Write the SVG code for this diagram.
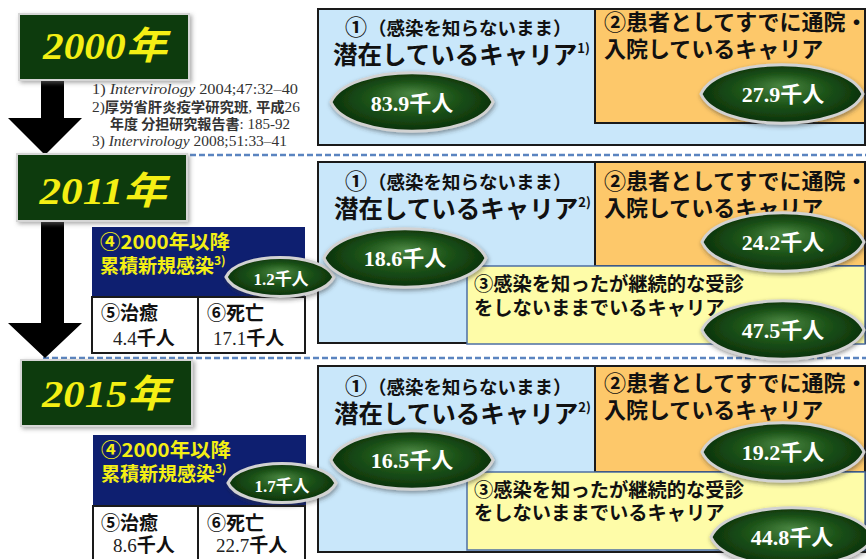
<svg xmlns="http://www.w3.org/2000/svg" width="866" height="559" viewBox="0 0 866 559">
<style>
.jp{font-family:"Noto Sans CJK JP","Noto Sans",sans-serif;font-weight:700;fill:#111;}
.year-box{fill:#113b0d;stroke:#d6d6d6;stroke-width:2;filter:url(#sh);}
.year{font-family:"Liberation Serif","Noto Sans CJK JP",serif;font-weight:700;font-style:italic;font-size:38px;fill:#f4ef14;text-anchor:middle;}
.blue{fill:#c9e7fa;stroke:#1a1a1a;stroke-width:2;}
.orange{fill:#fdc86a;stroke:#1a1a1a;stroke-width:2;}
.yellow{fill:#fefca8;stroke:#4d6fa3;stroke-width:1.5;}
.navy{fill:#0e1f70;}
.wbox{fill:#fff;stroke:#1a1a1a;stroke-width:2;}
.lens{fill:url(#gg);stroke:#d2d2d2;stroke-width:3;filter:url(#esh);}
.etxt{font-family:"Liberation Serif","Noto Sans CJK JP",serif;font-weight:700;font-size:22px;fill:#fff;text-anchor:middle;}
.etxs{font-family:"Liberation Serif","Noto Sans CJK JP",serif;font-weight:700;font-size:17px;fill:#fff;text-anchor:middle;}
.dash{stroke:#5a84c0;stroke-width:2.5;stroke-dasharray:6 3;fill:none;}
.arrow{fill:#000;}
.ref{font-family:"Liberation Serif","Noto Sans CJK JP",serif;font-size:15px;fill:#333;}
.refj{font-family:"Noto Sans CJK JP",sans-serif;font-weight:700;font-size:14px;}
.yl{fill:#f4ef14;}
.num{font-family:"Liberation Serif","Noto Sans CJK JP",serif;font-size:19px;fill:#222;}
</style>
<defs>
<radialGradient id="gg" cx="0.5" cy="0.5" r="0.55" fx="0.5" fy="0.35">
<stop offset="0" stop-color="#4a8641"/>
<stop offset="0.5" stop-color="#1c5318"/>
<stop offset="1" stop-color="#092b09"/>
</radialGradient>
<filter id="sh" x="-10%" y="-10%" width="125%" height="130%">
<feDropShadow dx="2" dy="2" stdDeviation="2" flood-color="#777" flood-opacity="0.6"/>
</filter>
<filter id="esh" x="-10%" y="-20%" width="125%" height="150%">
<feDropShadow dx="1" dy="2" stdDeviation="2" flood-color="#333" flood-opacity="0.5"/>
</filter>
<path id="lensL" d="M-81,0 C-64,-39 64,-39 81,0 C64,39 -64,39 -81,0Z"/>
<path id="lensS" d="M-54,0 C-42,-26 42,-26 54,0 C42,26 -42,26 -54,0Z"/>
</defs>

<!-- separators -->
<line class="dash" x1="190" y1="155" x2="866" y2="155"/>
<line class="dash" x1="43" y1="358" x2="866" y2="358"/>

<!-- connectors -->
<g id="connectors">
<polygon class="arrow" points="41,80 64,80 64,118 82,118 45,155 8,118 41,118"/>
<polygon class="arrow" points="41,221 64,221 64,323 82,323 45,358 8,323 41,323"/>
</g>

<!-- year nodes -->
<g id="year2000">
<rect class="year-box" x="19" y="14" width="170" height="66"/>
<text class="year" x="105" y="59" textLength="124" lengthAdjust="spacingAndGlyphs">2000年</text>
</g>
<g id="year2011">
<rect class="year-box" x="17" y="154" width="170" height="67"/>
<text class="year" x="103" y="204" textLength="127" lengthAdjust="spacingAndGlyphs">2011年</text>
</g>
<g id="year2015">
<rect class="year-box" x="21" y="360" width="171" height="66"/>
<text class="year" x="106" y="407" textLength="128" lengthAdjust="spacingAndGlyphs">2015年</text>
</g>

<!-- references -->
<g id="references">
<text class="ref" x="92" y="94" textLength="206" lengthAdjust="spacingAndGlyphs">1) <tspan font-style="italic">Intervirology</tspan> 2004;47:32–40</text>
<text class="ref" x="92" y="112" textLength="208" lengthAdjust="spacingAndGlyphs">2)<tspan class="refj">厚労省肝炎疫学研究班</tspan>, <tspan class="refj">平成</tspan>26</text>
<text class="ref" x="110" y="129" textLength="180" lengthAdjust="spacingAndGlyphs"><tspan class="refj">年度 分担研究報告書</tspan>: 185-92</text>
<text class="ref" x="92" y="146" textLength="195" lengthAdjust="spacingAndGlyphs">3) <tspan font-style="italic">Intervirology</tspan> 2008;51:33–41</text>
</g>

<!-- 2000 panel -->
<g id="p2000-latent">
<rect class="blue" x="318" y="9" width="547" height="136"/>
<text class="jp" x="345" y="35" font-size="22">①<tspan x="368" font-size="18.5">（感染を知らないまま）</tspan></text>
<text class="jp" x="333" y="64" font-size="24.5">潜在しているキャリア<tspan font-size="13" dy="-11">1)</tspan></text>
</g>
<g id="p2000-patient">
<rect class="orange" x="595" y="9" width="270" height="114"/>
<text class="jp" x="604" y="30" font-size="22">②患者としてすでに通院・</text>
<text class="jp" x="604" y="57" font-size="22">入院しているキャリア</text>
</g>

<!-- 2011 panel -->
<g id="p2011-latent">
<rect class="blue" x="318" y="162" width="547" height="181"/>
<text class="jp" x="345" y="189" font-size="22">①<tspan x="368" font-size="18.5">（感染を知らないまま）</tspan></text>
<text class="jp" x="334" y="218" font-size="24.5">潜在しているキャリア<tspan font-size="13" dy="-11">2)</tspan></text>
</g>
<g id="p2011-patient">
<rect class="orange" x="595" y="162" width="270" height="104"/>
<text class="jp" x="604" y="189" font-size="22">②患者としてすでに通院・</text>
<text class="jp" x="604" y="216" font-size="22">入院しているキャリア</text>
</g>
<g id="p2011-untreated">
<rect class="yellow" x="467" y="266" width="398" height="78"/>
<text class="jp" x="474" y="291" font-size="19.3">③感染を知ったが継続的な受診</text>
<text class="jp" x="474" y="315" font-size="19.3">をしないままでいるキャリア</text>
</g>
<g id="p2011-new">
<rect class="navy" x="92" y="227" width="213" height="70"/>
<text class="jp yl" x="100" y="249" font-size="19" textLength="130" lengthAdjust="spacingAndGlyphs">④2000年以降</text>
<text class="jp yl" x="100" y="273" font-size="19">累積新規感染<tspan font-size="12" dy="-8">3)</tspan></text>
</g>
<g id="p2011-cured">
<rect class="wbox" x="92" y="297" width="106" height="56"/>
<text class="jp" x="101" y="320" font-size="19">⑤治癒</text>
<text class="num" x="113" y="345">4.4<tspan class="jp" font-size="19">千人</tspan></text>
</g>
<g id="p2011-dead">
<rect class="wbox" x="198" y="297" width="107" height="56"/>
<text class="jp" x="207" y="320" font-size="19">⑥死亡</text>
<text class="num" x="213" y="345">17.1<tspan class="jp" font-size="19">千人</tspan></text>
</g>

<!-- 2015 panel -->
<g id="p2015-latent">
<rect class="blue" x="318" y="366" width="547" height="186"/>
<text class="jp" x="345" y="394" font-size="22">①<tspan x="368" font-size="18.5">（感染を知らないまま）</tspan></text>
<text class="jp" x="334" y="423" font-size="24.5">潜在しているキャリア<tspan font-size="13" dy="-11">2)</tspan></text>
</g>
<g id="p2015-patient">
<rect class="orange" x="595" y="366" width="270" height="106"/>
<text class="jp" x="604" y="391" font-size="22">②患者としてすでに通院・</text>
<text class="jp" x="604" y="418" font-size="22">入院しているキャリア</text>
</g>
<g id="p2015-untreated">
<rect class="yellow" x="467" y="472" width="398" height="78"/>
<text class="jp" x="474" y="497" font-size="19.3">③感染を知ったが継続的な受診</text>
<text class="jp" x="474" y="520" font-size="19.3">をしないままでいるキャリア</text>
</g>
<g id="p2015-new">
<rect class="navy" x="93" y="435" width="213" height="71"/>
<text class="jp yl" x="101" y="457" font-size="19" textLength="130" lengthAdjust="spacingAndGlyphs">④2000年以降</text>
<text class="jp yl" x="101" y="481" font-size="19">累積新規感染<tspan font-size="12" dy="-8">3)</tspan></text>
</g>
<g id="p2015-cured">
<rect class="wbox" x="93" y="506" width="105" height="60"/>
<text class="jp" x="101" y="530" font-size="19">⑤治癒</text>
<text class="num" x="113" y="552">8.6<tspan class="jp" font-size="19">千人</tspan></text>
</g>
<g id="p2015-dead">
<rect class="wbox" x="198" y="506" width="107" height="60"/>
<text class="jp" x="207" y="530" font-size="19">⑥死亡</text>
<text class="num" x="216" y="552">22.7<tspan class="jp" font-size="19">千人</tspan></text>
</g>

<!-- value ellipses -->
<g id="v2000-latent"><use href="#lensL" class="lens" x="412" y="102"/><text class="etxt" x="412" y="111">83.9千人</text></g>
<g id="v2000-patient"><use href="#lensL" class="lens" x="782" y="94"/><text class="etxt" x="783" y="102">27.9千人</text></g>

<g id="v2011-new"><use href="#lensS" class="lens" x="280" y="277"/><text class="etxs" x="281" y="285">1.2千人</text></g>
<g id="v2011-latent"><use href="#lensL" class="lens" x="405" y="258"/><text class="etxt" x="405" y="266">18.6千人</text></g>
<g id="v2011-patient"><use href="#lensL" class="lens" x="783" y="242"/><text class="etxt" x="783" y="250">24.2千人</text></g>
<g id="v2011-untreated"><use href="#lensL" class="lens" x="783" y="330"/><text class="etxt" x="783" y="338">47.5千人</text></g>

<g id="v2015-new"><use href="#lensS" class="lens" x="282" y="483"/><text class="etxs" x="282" y="492">1.7千人</text></g>
<g id="v2015-latent"><use href="#lensL" class="lens" x="412" y="460"/><text class="etxt" x="412" y="468">16.5千人</text></g>
<g id="v2015-patient"><use href="#lensL" class="lens" x="783" y="452"/><text class="etxt" x="783" y="460">19.2千人</text></g>
<g id="v2015-untreated"><use href="#lensL" class="lens" x="792" y="537"/><text class="etxt" x="792" y="545">44.8千人</text></g>
</svg>
